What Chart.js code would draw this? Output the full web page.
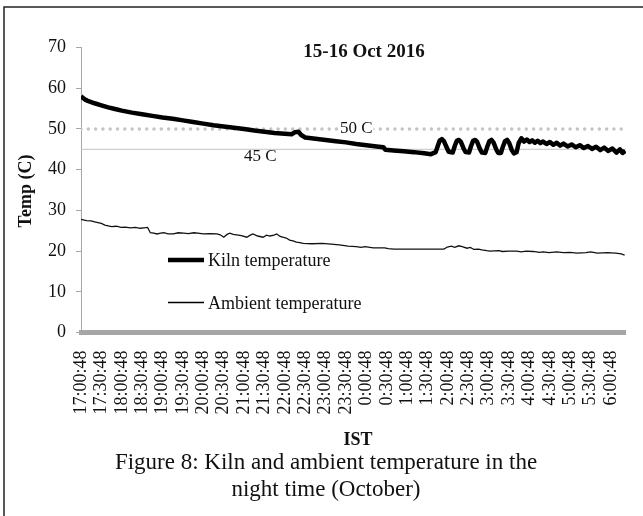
<!DOCTYPE html>
<html>
<head>
<meta charset="utf-8">
<script src="https://cdn.jsdelivr.net/npm/chart.js@4"></script>
<style>
  body { margin: 0; background: #fff; }
  canvas { display: block; }
</style>
</head>
<body>
<canvas id="kiln-chart" width="643" height="516"></canvas>
<script>
// x values are minutes after 17:00:48
const tickLabels = ["17:00:48", "17:30:48", "18:00:48", "18:30:48", "19:00:48", "19:30:48",
  "20:00:48", "20:30:48", "21:00:48", "21:30:48", "22:00:48", "22:30:48", "23:00:48",
  "23:30:48", "0:00:48", "0:30:48", "1:00:48", "1:30:48", "2:00:48", "2:30:48", "3:00:48",
  "3:30:48", "4:00:48", "4:30:48", "5:00:48", "5:30:48", "6:00:48"];

const kilnMinutes = [0, 3, 6, 10, 15, 20, 30, 40, 50, 60, 75, 90, 105, 120, 135, 150, 165, 180,
  195, 210, 225, 240, 255, 270, 285, 300, 310, 315, 320, 324, 330, 345, 360, 375, 390, 405,
  420, 435, 445, 448, 460, 475, 490, 505, 515,
  522, 525, 528, 531, 534, 538, 541, 547, 550, 553, 556, 559, 563, 566, 571, 574, 577, 580,
  583, 587, 590, 595, 598, 601, 604, 607, 611, 614, 618, 621, 624, 627, 630, 634, 637, 641,
  644, 648, 652, 656, 660, 664, 668, 672, 676, 680, 685, 690, 695, 700, 705, 710, 716, 722,
  728, 734, 740, 746, 752, 758, 764, 770, 776, 782, 788, 793, 797, 801];
const kilnTemp = [58.0, 57.6, 57.2, 56.9, 56.6, 56.3, 55.8, 55.3, 54.9, 54.5, 54.0, 53.6, 53.2,
  52.8, 52.5, 52.1, 51.7, 51.3, 50.9, 50.6, 50.3, 50.0, 49.6, 49.3, 49.0, 48.8, 48.7, 49.2,
  49.3, 48.5, 47.9, 47.6, 47.3, 47.0, 46.7, 46.3, 46.0, 45.7, 45.5, 44.9, 44.7, 44.5, 44.3,
  44.0, 43.8,
  44.3, 45.8, 47.2, 47.5, 47.0, 45.5, 44.4, 44.2, 45.8, 47.1, 47.3, 46.8, 45.2, 44.3, 44.2,
  45.8, 47.1, 47.3, 46.8, 45.1, 44.2, 44.1, 45.7, 47.0, 47.3, 46.7, 45.0, 44.1, 44.1, 45.7,
  47.0, 47.3, 46.6, 44.8, 44.0, 44.3, 46.5, 47.7, 46.9, 47.4, 46.8, 47.2, 46.6, 47.1, 46.5,
  46.9, 46.3, 46.8, 46.1, 46.6, 45.9, 46.4, 45.7, 46.2, 45.5, 46.0, 45.3, 45.8, 45.1, 45.6,
  44.8, 45.4, 44.6, 45.2, 44.2, 45.0, 44.1, 44.6];

const ambientMinutes = [0, 8, 15, 20, 25, 30, 35, 40, 45, 52, 59, 65, 73, 80, 87, 93, 98, 102,
  107, 112, 117, 122, 128, 136, 143, 151, 158, 166, 172, 180, 190, 200, 205, 210, 215, 219,
  224, 229, 236, 244, 249, 253, 260, 268, 273, 278, 284, 288, 293, 297, 302, 307, 312, 317,
  322, 327, 340, 355, 368, 380, 393, 405, 412, 418, 430, 447, 452, 461, 500, 534, 539, 545,
  550, 556, 561, 568, 573, 578, 585, 590, 597, 602, 615, 620, 630, 641, 648, 655, 665, 675,
  680, 689, 700, 710, 720, 730, 743, 750, 760, 775, 787, 795, 800];
const ambientTemp = [27.8, 27.5, 27.4, 27.2, 27.0, 26.8, 26.4, 26.2, 26.0, 26.1, 25.8, 25.9,
  25.7, 25.8, 25.6, 25.7, 25.8, 24.5, 24.4, 24.2, 24.4, 24.5, 24.2, 24.2, 24.5, 24.4, 24.3,
  24.5, 24.4, 24.2, 24.3, 24.2, 24.0, 23.4, 24.1, 24.4, 24.1, 24.0, 23.8, 23.4, 23.9, 24.2,
  23.7, 23.4, 23.9, 23.7, 23.9, 24.2, 23.6, 23.4, 23.2, 22.7, 22.5, 22.2, 22.1, 21.9, 21.8,
  21.9, 21.7, 21.5, 21.2, 21.1, 20.9, 21.1, 20.8, 20.8, 20.6, 20.5, 20.5, 20.5, 21.0, 21.2,
  20.9, 21.3, 21.1, 20.7, 20.9, 20.4, 20.5, 20.3, 20.1, 20.0, 20.1, 19.9, 20.0, 20.0, 19.8,
  20.0, 19.9, 19.7, 19.8, 19.6, 19.8, 19.6, 19.7, 19.5, 19.6, 19.8, 19.5, 19.6, 19.5, 19.3,
  19.0];

// threshold lines
const limitStart = [0, 802];
const limit50 = [50, 50];
const limit45 = [45, 45];

const SERIF = "'Liberation Serif', 'Times New Roman', serif";

function toPoints(xs, ys) {
  return xs.map((x, i) => ({ x: x, y: ys[i] }));
}

// draws title, axis titles, legend, limit labels, caption and the frame
const decorations = {
  id: "decorations",
  afterDraw(chart) {
    const ctx = chart.ctx;
    const xs = chart.scales.x;
    const ys = chart.scales.y;
    ctx.save();
    ctx.fillStyle = "#111";
    ctx.textBaseline = "middle";

    // frame (only left and top edges are in the picture)
    ctx.strokeStyle = "#222";
    ctx.lineWidth = 1.5;
    ctx.beginPath();
    ctx.moveTo(4, 516);
    ctx.lineTo(4, 7);
    ctx.lineTo(643, 7);
    ctx.stroke();

    // title
    ctx.textAlign = "center";
    ctx.font = "bold 19px " + SERIF;
    ctx.fillText("15-16 Oct 2016", 364, 52);

    // axis titles
    ctx.font = "bold 18px " + SERIF;
    ctx.fillText("IST", 358, 440);
    ctx.save();
    ctx.translate(26, 191);
    ctx.rotate(-Math.PI / 2);
    ctx.fillText("Temp (C)", 0, 0);
    ctx.restore();

    // limit labels
    ctx.font = "17px " + SERIF;
    let px = xs.getPixelForValue(405);
    let py = ys.getPixelForValue(50.2);
    let w = ctx.measureText("50 C").width;
    ctx.fillStyle = "#fff";
    ctx.fillRect(px - w / 2 - 1, py - 7, w + 2, 14);
    ctx.fillStyle = "#111";
    ctx.fillText("50 C", px, py);
    ctx.fillText("45 C", xs.getPixelForValue(264), ys.getPixelForValue(43.1));

    // legend
    ctx.textAlign = "left";
    ctx.font = "18px " + SERIF;
    ctx.strokeStyle = "#000";
    ctx.lineWidth = 4.5;
    ctx.beginPath();
    ctx.moveTo(168, 260);
    ctx.lineTo(204, 260);
    ctx.stroke();
    ctx.fillText("Kiln temperature", 208, 261);
    ctx.lineWidth = 1.3;
    ctx.beginPath();
    ctx.moveTo(168, 302.5);
    ctx.lineTo(204, 302.5);
    ctx.stroke();
    ctx.fillText("Ambient temperature", 208, 304);

    // caption
    ctx.textAlign = "center";
    ctx.font = "23px " + SERIF;
    ctx.fillText("Figure 8: Kiln and ambient temperature in the", 326, 463);
    ctx.fillText("night time (October)", 326, 490);
    ctx.restore();
  }
};

const canvas = document.querySelector("#kiln-chart");
const chart = new Chart(canvas.getContext("2d"), {
  type: "line",
  data: {
    datasets: [
      {
        label: "Kiln temperature",
        data: toPoints(kilnMinutes, kilnTemp),
        borderColor: "#000",
        borderWidth: 4.5,
        borderJoinStyle: "round",
        pointRadius: 0,
        tension: 0
      },
      {
        label: "Ambient temperature",
        data: toPoints(ambientMinutes, ambientTemp),
        borderColor: "#111",
        borderWidth: 1.3,
        pointRadius: 0,
        tension: 0
      },
      {
        label: "50 C",
        data: toPoints(limitStart, limit50),
        borderColor: "#c4c4c4",
        borderWidth: 3.5,
        borderDash: [0, 7.3],
        borderCapStyle: "round",
        pointRadius: 0
      },
      {
        label: "45 C",
        data: toPoints(limitStart, limit45),
        borderColor: "#c4c4c4",
        borderWidth: 1,
        pointRadius: 0
      }
    ]
  },
  options: {
    responsive: false,
    animation: false,
    layout: { padding: { top: 47.5, right: 13, left: 0, bottom: 0 } },
    scales: {
      x: {
        type: "linear",
        min: 0,
        max: 802,
        afterBuildTicks: (scale) => {
          scale.ticks = tickLabels.map((t, i) => ({ value: i * 30 }));
        },
        afterFit: (scale) => { scale.height = 183.5; },
        grid: { display: false },
        border: { display: true, color: "#a6a6a6", width: 5 },
        ticks: {
          autoSkip: false,
          minRotation: 90,
          maxRotation: 90,
          padding: 10,
          color: "#111",
          font: { family: SERIF, size: 18 },
          callback: (value, index) => tickLabels[index]
        }
      },
      y: {
        min: 0,
        max: 70,
        afterFit: (scale) => { scale.width = 81; },
        grid: { drawOnChartArea: false, drawTicks: true, tickLength: 5, color: "#a6a6a6" },
        border: { display: true, color: "#a6a6a6", width: 1 },
        ticks: {
          stepSize: 10,
          padding: 10,
          color: "#111",
          font: { family: SERIF, size: 18 }
        }
      }
    },
    plugins: {
      legend: { display: false },
      title: { display: false },
      tooltip: { enabled: false }
    }
  },
  plugins: [decorations]
});
</script>
</body>
</html>
